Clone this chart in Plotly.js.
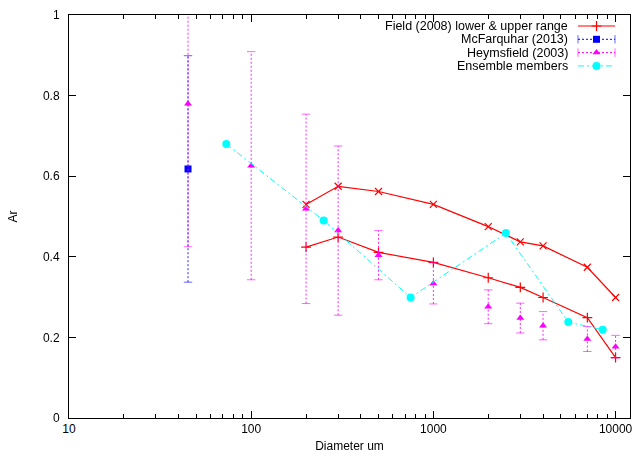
<!DOCTYPE html>
<html>
<head>
<meta charset="utf-8">
<script src="https://cdn.plot.ly/plotly-3.0.1.min.js"></script>
<style>html,body{margin:0;padding:0;background:#fff;}#chart{width:636px;height:457px;}</style>
</head>
<body>
<div id="chart"></div>
<script>
// ---- Data ----
const fieldD = [200, 300, 500, 1000, 2000, 3000, 4000, 7000, 10000];
const fieldUpper = [0.53, 0.575, 0.562, 0.53, 0.475, 0.437, 0.427, 0.374, 0.299];
const fieldLower = [0.424, 0.449, 0.411, 0.386, 0.348, 0.324, 0.299, 0.249, 0.15];

const mcfD = [45];
const mcfAr = [0.618];
const mcfErr = [0.281];

const heyD = [45, 100, 200, 300, 500, 1000, 2000, 3000, 4000, 7000, 10000];
const heyAr = [0.78, 0.626, 0.519, 0.465, 0.404, 0.334, 0.276, 0.248, 0.229, 0.196, 0.177];
const heyErr = [0.355, 0.283, 0.235, 0.21, 0.061, 0.051, 0.042, 0.037, 0.035, 0.031, 0.028];

const ensD = [73, 250, 750, 2500, 5500, 8500];
const ensAr = [0.68, 0.49, 0.299, 0.459, 0.238, 0.219];

const xTickVals = [10, 100, 1000, 10000];
const xTickText = ['10', '100', '1000', '10000'];
const yTickVals = [0, 0.2, 0.4, 0.6, 0.8, 1];

const legendNames = ['Field (2008) lower & upper range', 'McFarquhar (2013)', 'Heymsfield (2003)', 'Ensemble members'];

// ---- Helpers ----
function errSegs(xs, ys, es) {
  const X = [], Y = [];
  xs.forEach((x, i) => { X.push(x, x, null); Y.push(ys[i] - es[i], ys[i] + es[i], null); });
  return {X, Y};
}
function capPts(xs, ys, es) {
  const X = [], Y = [];
  xs.forEach((x, i) => { X.push(x, x); Y.push(ys[i] - es[i], ys[i] + es[i]); });
  return {X, Y};
}
const minorVals = [];
for (let d = 10; d < 12000; d *= 10) for (let k = 2; k <= 9; k++) if (d * k < 12000) minorVals.push(d * k);

const RED = '#ff0000', BLUE = '#0000ff', MAG = '#ff00ff', CYAN = '#00ffff';
const DOTS = '2px,2px';
const DASHDOT = '6px,3px,2px,3px';

const mcfSeg = errSegs(mcfD, mcfAr, mcfErr), mcfCap = capPts(mcfD, mcfAr, mcfErr);
const heySeg = errSegs(heyD, heyAr, heyErr), heyCap = capPts(heyD, heyAr, heyErr);

const traces = [
  {x: fieldD, y: fieldUpper, mode: 'lines+markers', line: {color: RED, width: 1.2},
   marker: {symbol: 'x-thin-open', size: 7, color: RED, line: {color: RED, width: 1.2}}, showlegend: false},
  {x: fieldD, y: fieldLower, mode: 'lines+markers', line: {color: RED, width: 1.2},
   marker: {symbol: 'cross-thin-open', size: 7, color: RED, line: {color: RED, width: 1.2}}, showlegend: false},
  {x: mcfSeg.X, y: mcfSeg.Y, mode: 'lines', line: {color: BLUE, width: 1, dash: DOTS}, opacity: 0.85, showlegend: false},
  {x: mcfCap.X, y: mcfCap.Y, mode: 'markers', opacity: 0.6, marker: {symbol: 'line-ew', size: 6, line: {color: BLUE, width: 1}}, showlegend: false},
  {x: mcfD, y: mcfAr, mode: 'markers', marker: {symbol: 'square', size: 7, color: BLUE}, showlegend: false},
  {x: heySeg.X, y: heySeg.Y, mode: 'lines', line: {color: MAG, width: 1, dash: DOTS}, opacity: 0.85, showlegend: false},
  {x: heyCap.X, y: heyCap.Y, mode: 'markers', opacity: 0.6, marker: {symbol: 'line-ew', size: 6, line: {color: MAG, width: 1}}, showlegend: false},
  {x: heyD, y: heyAr, mode: 'markers', marker: {symbol: 'triangle-up', size: 7, color: MAG}, showlegend: false},
  {x: ensD, y: ensAr, mode: 'lines+markers', line: {color: CYAN, width: 1, dash: DASHDOT},
   marker: {symbol: 'circle', size: 8, color: CYAN}, showlegend: false}
];

// ---- Legend drawn on a pixel-space overlay axis ----
const legY = [26, 39.3, 52.6, 65.9];
const legX0 = 578, legX1 = 615, legXm = 596.5;
const legStyles = [
  {line: {color: RED, width: 1.2}, marker: {symbol: 'cross-thin-open', size: 7, color: RED, line: {color: RED, width: 1.2}}, caps: null},
  {line: {color: BLUE, width: 1, dash: DOTS}, marker: {symbol: 'square', size: 7, color: BLUE}, caps: BLUE},
  {line: {color: MAG, width: 1, dash: DOTS}, marker: {symbol: 'triangle-up', size: 7, color: MAG}, caps: MAG},
  {line: {color: CYAN, width: 1, dash: DASHDOT}, marker: {symbol: 'circle', size: 8, color: CYAN}, caps: null}
];
legStyles.forEach((s, i) => {
  traces.push({x: [legX0, legX1], y: [legY[i], legY[i]], xaxis: 'x2', yaxis: 'y2', mode: 'lines', line: s.line, showlegend: false, hoverinfo: 'skip'});
  if (s.caps) traces.push({x: [legX0, legX1], y: [legY[i], legY[i]], xaxis: 'x2', yaxis: 'y2', mode: 'markers', opacity: 0.6,
    marker: {symbol: 'line-ns', size: 6, line: {color: s.caps, width: 1}}, showlegend: false, hoverinfo: 'skip'});
  traces.push({x: [legXm], y: [legY[i]], xaxis: 'x2', yaxis: 'y2', mode: 'markers', marker: s.marker, showlegend: false, hoverinfo: 'skip'});
});
const annotations = legendNames.map((t, i) => ({
  x: 570, y: legY[i], xref: 'x2', yref: 'y2', text: t, showarrow: false,
  xanchor: 'right', yanchor: 'middle', font: {size: 12.5, color: '#000'}
}));

const layout = {
  width: 636, height: 457,
  margin: {l: 69, r: 6, t: 15, b: 39, pad: 0},
  paper_bgcolor: '#fff', plot_bgcolor: '#fff',
  font: {family: 'Liberation Sans, Arial, sans-serif', size: 12, color: '#000'},
  showlegend: false,
  xaxis: {
    type: 'log', range: [1, Math.log10(12000)],
    tickmode: 'array', tickvals: xTickVals, ticktext: xTickText,
    ticks: 'inside', ticklen: 7, tickcolor: '#000', tickwidth: 1,
    minor: {tickmode: 'array', tickvals: minorVals, ticks: 'inside', ticklen: 4, tickcolor: '#000', showgrid: false},
    showline: true, linecolor: '#000', linewidth: 1, mirror: 'allticks',
    showgrid: false, zeroline: false,
    title: {text: 'Diameter um', standoff: 6, font: {size: 12}}
  },
  yaxis: {
    range: [0, 1], tickmode: 'array', tickvals: yTickVals,
    ticks: 'inside', ticklen: 7, tickcolor: '#000', tickwidth: 1,
    ticklabelstandoff: 6,
    showline: true, linecolor: '#000', linewidth: 1, mirror: 'allticks',
    showgrid: false, zeroline: false,
    title: {text: 'Ar', standoff: 22, font: {size: 12}}
  },
  xaxis2: {overlaying: 'x', range: [69, 630], visible: false, fixedrange: true},
  yaxis2: {overlaying: 'y', range: [418, 15], visible: false, fixedrange: true},
  annotations: annotations
};

Plotly.newPlot('chart', traces, layout, {displayModeBar: false, staticPlot: true});
</script>
</body>
</html>
